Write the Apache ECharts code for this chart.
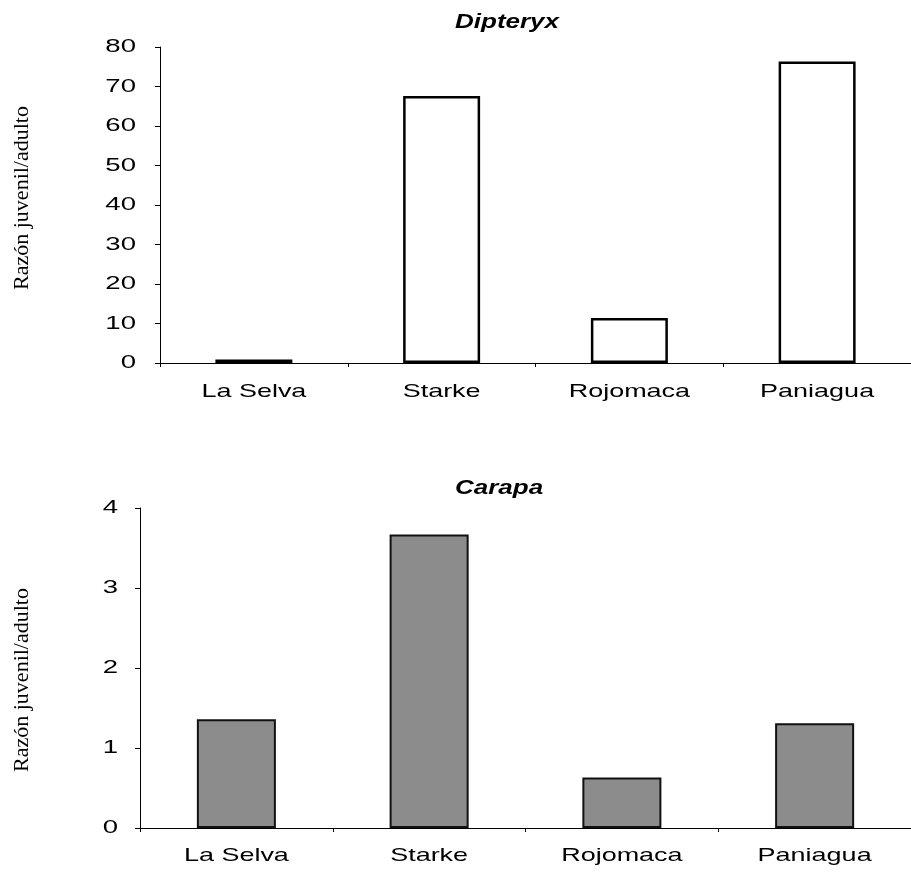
<!DOCTYPE html>
<html>
<head>
<meta charset="utf-8">
<script src="https://cdn.jsdelivr.net/npm/echarts@6/dist/echarts.min.js"></script>
<style>
html,body{margin:0;padding:0;background:#fff;}
#chart{width:911px;height:875px;}
</style>
</head>
<body>
<div id="chart"></div>
<script>
var categories = ['La Selva', 'Starke', 'Rojomaca', 'Paniagua'];
var dipteryxValues = [0.9, 67.6, 11.4, 76.3];
var carapaValues = [1.36, 3.67, 0.63, 1.31];
var dipteryxTicks = [0, 10, 20, 30, 40, 50, 60, 70, 80];
var carapaTicks = [0, 1, 2, 3, 4];
var titleTop = 'Dipteryx';
var titleBottom = 'Carapa';
var yName = 'Razón juvenil/adulto';

var chart = echarts.init(document.getElementById('chart'));
function xAx(idx){
  return {
    type:'category', gridIndex:idx, data:categories,
    axisLine:{lineStyle:{color:'#000', width:1}},
    axisTick:{show:true, length:4, lineStyle:{color:'#000'}},
    axisLabel:{show:false}
  };
}
function yAx(idx, ticks){
  return {
    type:'value', gridIndex:idx, min:ticks[0], max:ticks[ticks.length-1], interval:ticks[1]-ticks[0],
    axisLine:{show:true, lineStyle:{color:'#000', width:1}},
    axisTick:{show:true, length:5, lineStyle:{color:'#000'}},
    splitLine:{show:false},
    axisLabel:{show:false}
  };
}
chart.setOption({
  animation:false,
  backgroundColor:'#fff',
  grid:[
    {left:160, top:47, width:756, height:316},
    {left:140, top:508, width:778, height:320}
  ],
  xAxis:[xAx(0), xAx(1)],
  yAxis:[yAx(0, dipteryxTicks), yAx(1, carapaTicks)],
  series:[
    {type:'bar', xAxisIndex:0, yAxisIndex:0, data:dipteryxValues, barWidth:'41%',
     itemStyle:{color:'#fff', borderColor:'#000', borderWidth:2.5}},
    {type:'bar', xAxisIndex:1, yAxisIndex:1, data:carapaValues, barWidth:'41%',
     itemStyle:{color:'#8c8c8c', borderColor:'#111', borderWidth:2}}
  ]
});

var sansFont = '19px "Liberation Sans", Arial, sans-serif';
var graphics = [];
function addText(x, y, text, align, font, sx, rot){
  graphics.push({type:'text', x:x, y:y, scaleX:sx || 1, rotation:rot || 0, silent:true,
    style:{text:text, fill:'#000', font:font, textAlign:align, textVerticalAlign:'middle'}});
}
// category labels
categories.forEach(function(c){
  var p0 = chart.convertToPixel({xAxisIndex:0}, c);
  addText(p0, 392, c, 'center', sansFont, 1.42);
  var p1 = chart.convertToPixel({xAxisIndex:1}, c);
  addText(p1, 856, c, 'center', sansFont, 1.42);
});
// y tick labels
dipteryxTicks.forEach(function(v){
  var py = chart.convertToPixel({yAxisIndex:0}, v);
  addText(136, py, String(v), 'right', sansFont, 1.45);
});
carapaTicks.forEach(function(v){
  var py = chart.convertToPixel({yAxisIndex:1}, v);
  addText(118, py, String(v), 'right', sansFont, 1.45);
});
// titles
var titleFont = 'italic bold 20px "Liberation Sans", Arial, sans-serif';
addText(455, 22, titleTop, 'left', titleFont, 1.3);
addText(455, 488, titleBottom, 'left', titleFont, 1.3);
// axis names
var nameFont = '22px "Liberation Serif", "Times New Roman", serif';
addText(22, 198, yName, 'center', nameFont, 1, Math.PI/2);
addText(22, 680, yName, 'center', nameFont, 1, Math.PI/2);

chart.setOption({graphic:graphics});
</script>
</body>
</html>
